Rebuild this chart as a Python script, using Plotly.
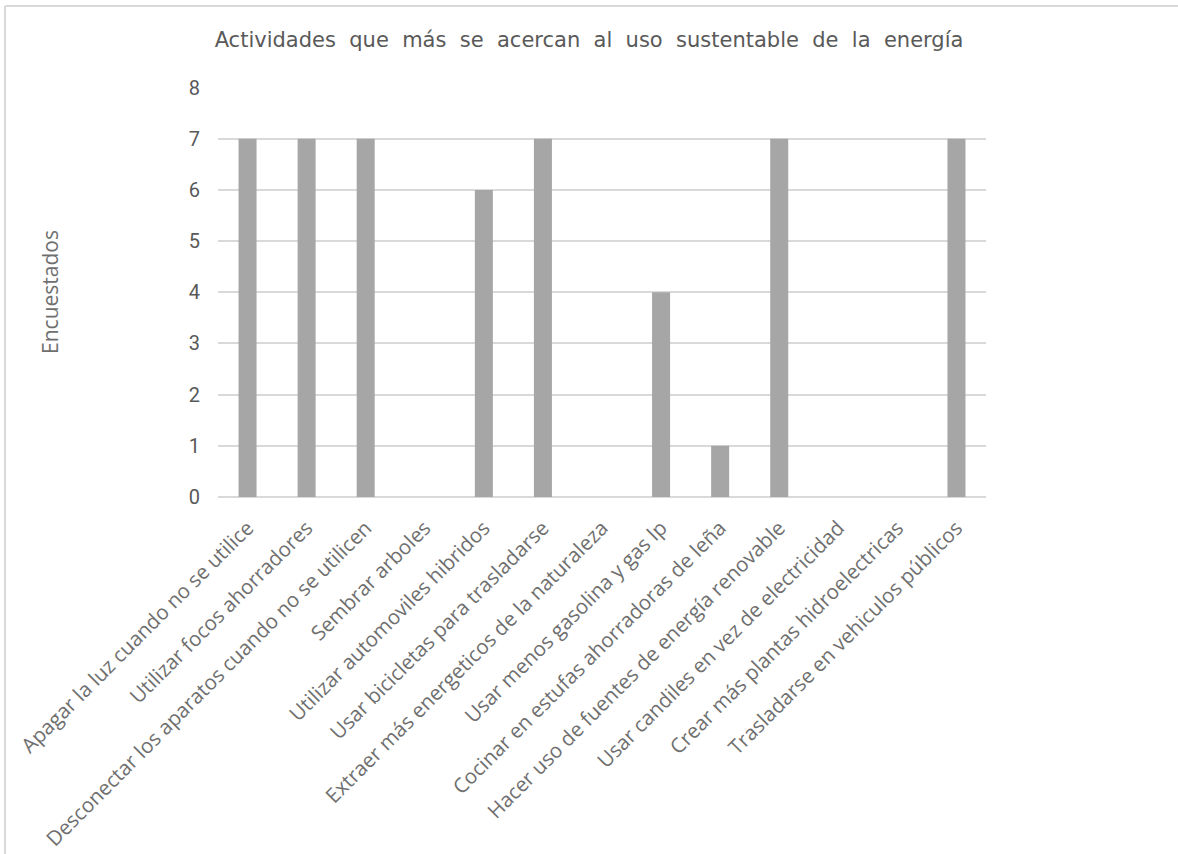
import plotly.graph_objects as go

# Survey answers: how many respondents picked each activity
actividades = [
    "Apagar la luz cuando no se utilice",
    "Utilizar focos ahorradores",
    "Desconectar los aparatos cuando no se utilicen",
    "Sembrar arboles",
    "Utilizar automoviles hibridos",
    "Usar bicicletas para trasladarse",
    "Extraer más energeticos de la naturaleza",
    "Usar menos gasolina y gas lp",
    "Cocinar en estufas ahorradoras de leña",
    "Hacer uso de fuentes de energía renovable",
    "Usar candiles en vez de electricidad",
    "Crear más plantas hidroelectricas",
    "Trasladarse en vehiculos públicos",
]
encuestados = [7, 7, 7, 0, 6, 7, 0, 4, 1, 7, 0, 0, 7]
y_ticks = list(range(0, 9))

W, H = 1178, 854
L, R, T, B = 218, 1178 - 986, 87, 854 - 497
pw, ph = W - L - R, H - T - B

text_col = "#595959"
grid_col = "#d9d9d9"

fig = go.Figure(
    go.Bar(
        x=actividades,
        y=encuestados,
        marker=dict(color="#a6a6a6", line=dict(width=0)),
        width=0.305,
    )
)

fig.update_layout(
    width=W,
    height=H,
    margin=dict(l=L, r=R, t=T, b=B, pad=0, autoexpand=False),
    paper_bgcolor="white",
    plot_bgcolor="white",
    showlegend=False,
    title=dict(
        text="Actividades  que  más  se  acercan  al  uso  sustentable  de  la  energía",
        x=(589 - L) / pw,
        xref="paper",
        xanchor="center",
        y=1 - 40 / H,
        yanchor="middle",
        font=dict(family="DejaVu Sans", size=21, color=text_col),
    ),
    font=dict(family="Open Sans", color=text_col),
)

fig.update_xaxes(
    type="category",
    categoryorder="array",
    categoryarray=actividades,
    range=[-0.5, len(actividades) - 0.5],
    tickangle=-45,
    tickfont=dict(family="Open Sans", size=20.5, color="#6f6f6f"),
    showgrid=False,
    showline=False,
    ticks="",
    ticklabelstandoff=14,
    automargin=False,
)

fig.update_yaxes(
    range=[0, 8.01],
    tickvals=y_ticks,
    showgrid=True,
    gridcolor=grid_col,
    gridwidth=2,
    zeroline=True,
    zerolinecolor=grid_col,
    zerolinewidth=2,
    showline=False,
    ticks="",
    tickfont=dict(family="Roboto", size=20, color=text_col),
    ticklabelstandoff=17,
    automargin=False,
    title=dict(
        text="Encuestados",
        font=dict(family="Open Sans", size=21, color="#6f6f6f"),
        standoff=124,
    ),
)

# thin frame along the top and left edges of the chart
x_left = (5 - L) / pw
y_top = 1 + (T - 6) / ph
fig.add_shape(type="line", xref="paper", yref="paper",
              x0=x_left, x1=(W - L) / pw, y0=y_top, y1=y_top,
              line=dict(color=grid_col, width=2))
fig.add_shape(type="line", xref="paper", yref="paper",
              x0=x_left, x1=x_left, y0=y_top, y1=-B / ph,
              line=dict(color=grid_col, width=2))

fig.write_html("out.html")
